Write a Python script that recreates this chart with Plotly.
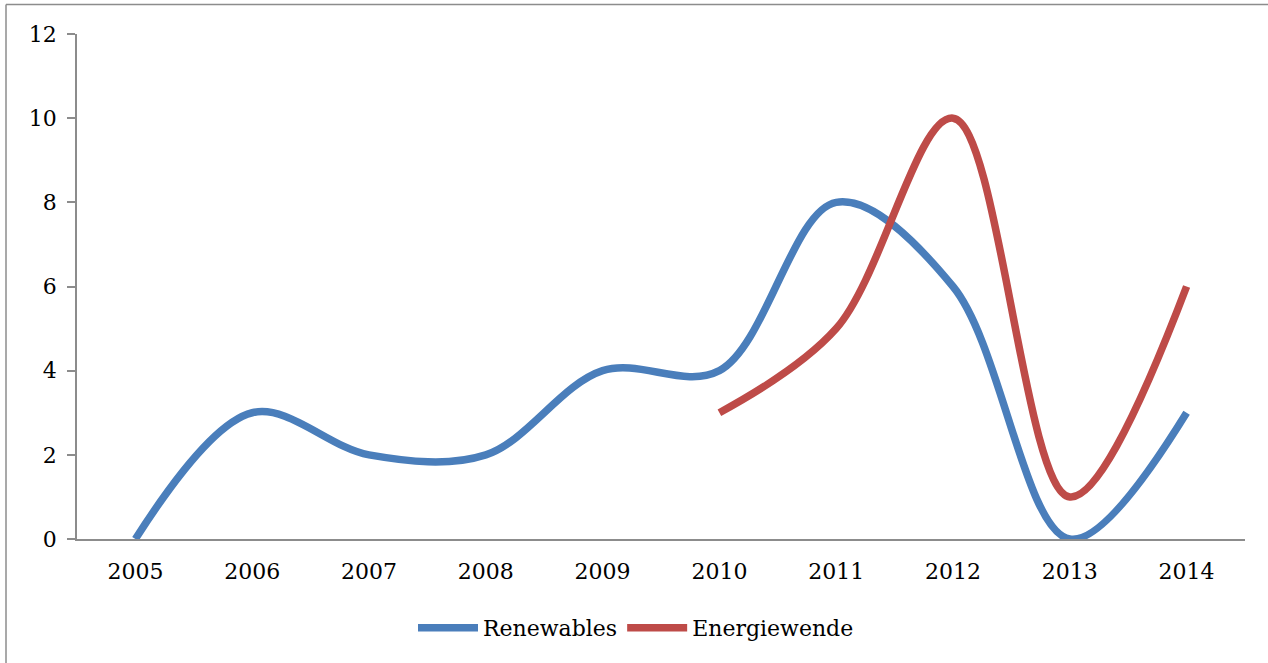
import plotly.graph_objects as go

years = ["2005", "2006", "2007", "2008", "2009", "2010", "2011", "2012", "2013", "2014"]
renewables = [0, 3, 2, 2, 4, 4, 8, 6, 0, 3]
energiewende = [None, None, None, None, None, 3, 5, 10, 1, 6]
y_ticks = [0, 2, 4, 6, 8, 10, 12]

FONT = "DejaVu Serif"
L, R, T, B = 77, 23, 34, 124
W, H = 1268, 663
pw = W - L - R
ph = H - T - B

fig = go.Figure()
fig.add_trace(go.Scatter(
    x=years, y=renewables, name="Renewables", mode="lines",
    line=dict(color="#4A7EBB", width=7.5, shape="spline", smoothing=1.0),
    connectgaps=False,
))
fig.add_trace(go.Scatter(
    x=years, y=energiewende, name="Energiewende", mode="lines",
    line=dict(color="#BE4B48", width=7.5, shape="spline", smoothing=1.0),
    connectgaps=False,
))

def px(x):
    return (x - L) / pw

def py(y):
    return (H - B - y) / ph

border = dict(color="#8c8c8c", width=1.5)
# outer chart frame: top edge and left edge (the rest is cropped in the reference)
fig.add_shape(type="line", xref="paper", yref="paper",
              x0=px(6), x1=px(W + 20), y0=py(4.5), y1=py(4.5), line=border, layer="below")
fig.add_shape(type="line", xref="paper", yref="paper",
              x0=px(6), x1=px(6), y0=py(4.5), y1=py(H + 20), line=border, layer="below")

fig.update_layout(
    width=W, height=H,
    margin=dict(l=L, r=R, t=T, b=B),
    paper_bgcolor="white", plot_bgcolor="white",
    font=dict(family=FONT, size=22, color="black"),
    showlegend=True,
    legend=dict(orientation="h", x=px(636), xanchor="center", y=py(628), yanchor="middle",
                font=dict(family=FONT, size=22, color="black"), itemwidth=60,
                bgcolor="rgba(0,0,0,0)"),
    xaxis=dict(type="category", categoryorder="array", categoryarray=years,
               range=[-0.5, 9.5], showgrid=False, zeroline=False,
               showline=True, linecolor="#8c8c8c", linewidth=1.5,
               ticks="", tickfont=dict(family=FONT, size=22), ticklabelstandoff=12),
    yaxis=dict(range=[0, 12], tickvals=y_ticks, showgrid=False, zeroline=False,
               showline=True, linecolor="#8c8c8c", linewidth=1.5,
               ticks="outside", ticklen=8, tickcolor="#8c8c8c", tickwidth=1.5,
               tickfont=dict(family=FONT, size=22), ticklabelstandoff=6),
)

fig.write_html("out.html")
